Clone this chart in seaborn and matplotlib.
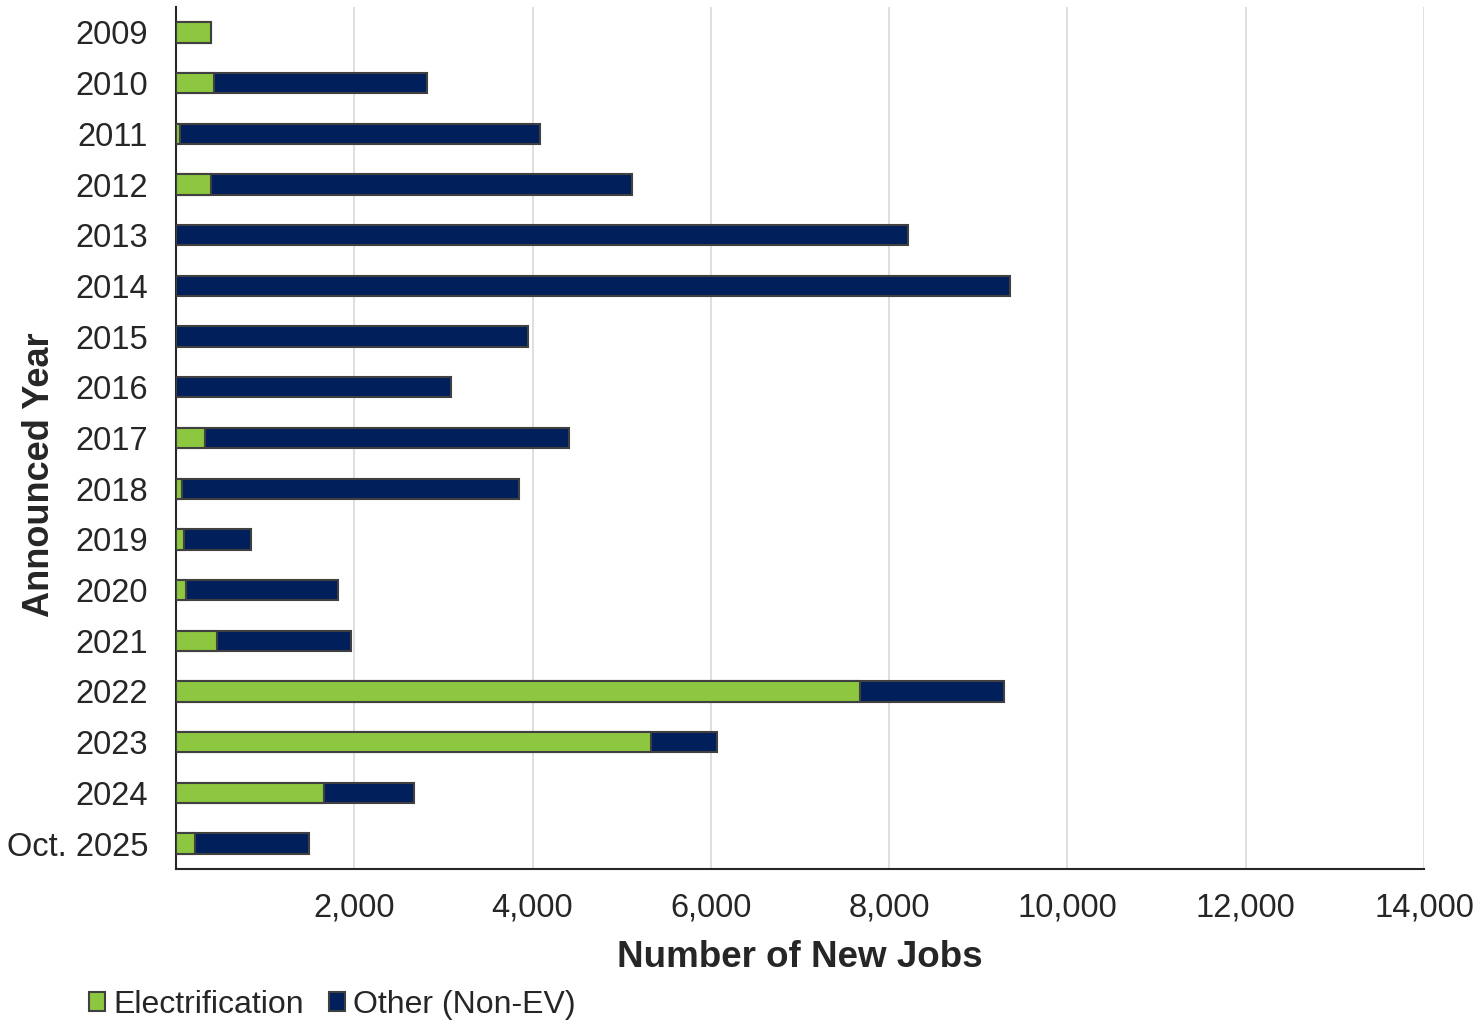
import matplotlib.pyplot as plt
import matplotlib.ticker as mticker
from matplotlib.patches import Patch
import pandas as pd
import seaborn as sns

years = ["2009", "2010", "2011", "2012", "2013", "2014", "2015", "2016",
         "2017", "2018", "2019", "2020", "2021", "2022", "2023", "2024",
         "Oct. 2025"]
electrification = [390, 430, 43, 390, 0, 0, 0, 0,
                   330, 69, 95, 114, 460, 7671, 5333, 1661, 218]
total_jobs = [390, 2821, 4088, 5117, 8216, 9357, 3954, 3082,
              4413, 3853, 848, 1814, 1967, 9290, 6068, 2675, 1493]

green = "#8DC63F"
navy = "#001F5B"
edge = "#404040"

df = pd.DataFrame({"year": years, "elec": electrification, "total": total_jobs})

sns.set_style("white")
plt.rcParams["font.family"] = ["Liberation Sans", "DejaVu Sans"]

fig = plt.figure(figsize=(14.78, 10.21), dpi=100)
ax = fig.add_axes([0.119, 0.149, 0.8445, 0.844])

# total first (navy), then electrification on top of it
sns.barplot(data=df, y="year", x="total", color=navy, width=0.4,
            edgecolor=edge, linewidth=1.5, saturation=1, ax=ax, zorder=3)
sns.barplot(data=df, y="year", x="elec", color=green, width=0.4,
            edgecolor=edge, linewidth=1.5, saturation=1, ax=ax, zorder=4)

ax.set_xlim(0, 14000)
ax.set_ylim(16.5, -0.5)
ax.set_xticks(range(2000, 14001, 2000))
ax.xaxis.set_major_formatter(mticker.FuncFormatter(lambda v, p: f"{int(v):,}"))
ax.grid(axis="x", color="#d9d9d9", linewidth=1.2, zorder=0)
ax.grid(axis="y", visible=False)
ax.set_axisbelow(True)

for s in ["top", "right"]:
    ax.spines[s].set_visible(False)
for s in ["left", "bottom"]:
    ax.spines[s].set_color("#262626")
    ax.spines[s].set_linewidth(1.5)

ax.tick_params(axis="x", length=0, pad=17, labelsize=23.5, labelcolor="#262626")
ax.tick_params(axis="y", length=0, pad=20, labelsize=23.5, labelcolor="#262626")

ax.set_xlabel("Number of New Jobs", fontsize=26.5, fontweight="bold", labelpad=12)
ax.set_ylabel("Announced Year", fontsize=26, fontweight="bold")
ax.yaxis.set_label_coords(-0.095, 0.457)

handles = [Patch(facecolor=green, edgecolor=edge, linewidth=1.5, label="Electrification"),
           Patch(facecolor=navy, edgecolor=edge, linewidth=1.5, label="Other (Non-EV)")]
fig.legend(handles=handles, loc="lower left", bbox_to_anchor=(0.041, -0.027),
           ncol=2, frameon=False, fontsize=23, handlelength=0.5, handleheight=0.5,
           handletextpad=0.25, columnspacing=0.8, labelcolor="#262626")

fig.savefig("out.png", dpi=100)
